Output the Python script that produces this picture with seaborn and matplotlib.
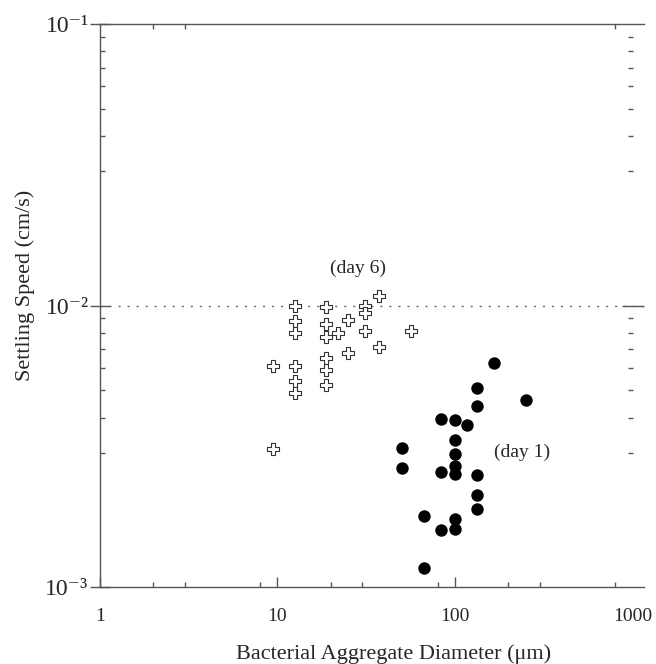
import matplotlib
matplotlib.use("Agg")
import matplotlib.pyplot as plt
import seaborn as sns
import pandas as pd

# day 6 aggregates (open crosses)
day6_diam = [37.5, 12.5, 18.75, 31.25, 31.25, 12.5, 18.75, 25, 12.5, 18.75, 21.9,
             31.25, 56.25, 37.5, 25, 9.4, 12.5, 18.75, 18.75, 12.5, 12.5, 18.75, 9.4]
day6_speed = [0.0108, 0.0100, 0.0099, 0.0100, 0.0094, 0.0088, 0.0086, 0.0089, 0.0080,
              0.0077, 0.0080, 0.0081, 0.0081, 0.0071, 0.0068, 0.0061, 0.0061, 0.0065,
              0.0059, 0.0054, 0.0049, 0.0052, 0.0031]

# day 1 aggregates (filled circles)
day1_diam = [166.7, 133.3, 250, 133.3, 83.3, 100, 116.7, 100, 100, 50, 50, 83.3, 100,
             100, 133.3, 133.3, 133.3, 66.7, 83.3, 100, 100, 66.7]
day1_speed = [0.00626, 0.00511, 0.00462, 0.00441, 0.00396, 0.00391, 0.00375, 0.00332,
              0.00296, 0.00312, 0.00264, 0.00256, 0.00268, 0.00251, 0.00249, 0.00212,
              0.00189, 0.00179, 0.00159, 0.00174, 0.00161, 0.00117]

x_ticks = [1, 10, 100, 1000]
x_ticklabels = ["1", "10", "100", "1000"]
y_ticks = [1e-3, 1e-2, 1e-1]
y_ticklabels = ["10\u207b\u00b3", "10\u207b\u00b2", "10\u207b\u00b9"]
x_minor = [2, 3, 8, 20, 30, 80, 200, 300, 800]
x_minor_top = [2, 3, 800]
y_minor = [k * 1e-3 for k in range(3, 10)] + [k * 1e-2 for k in range(3, 10)]

sns.set_style("ticks")
plt.rcParams["font.family"] = ["Liberation Serif", "DejaVu Serif"]

AX = "#555555"
PT = 72 / 100  # points per pixel at dpi 100

df6 = pd.DataFrame({"d": day6_diam, "v": day6_speed})
df1 = pd.DataFrame({"d": day1_diam, "v": day1_speed})

fig = plt.figure(figsize=(6.56, 6.64), dpi=100)
ax = fig.add_axes([100 / 656, 1 - 587 / 664, 544 / 656, 563 / 664])
ax.set_xscale("log")
ax.set_yscale("log")
ax.set_xlim(1, 1161)
ax.set_ylim(1e-3, 1e-1)

ax.axhline(1e-2, color="#666666", lw=1.0, ls=(0, (1.5, 5)), zorder=1)

sns.scatterplot(data=df6, x="d", y="v", ax=ax, marker="P", s=85,
                facecolor="white", edgecolor="#333333", linewidth=0.8, zorder=3)
sns.scatterplot(data=df1, x="d", y="v", ax=ax, marker="o", s=80,
                color="black", edgecolor="black", linewidth=0, zorder=3)

ax.text(28.4, 0.0136, "(day 6)", fontsize=14, ha="center", va="center")
ax.text(238, 0.0030, "(day 1)", fontsize=14, ha="center", va="center")

for side in ["left", "bottom", "top"]:
    ax.spines[side].set_color(AX)
    ax.spines[side].set_linewidth(1.0)
ax.spines["right"].set_visible(False)

ax.set_xticks(x_ticks)
ax.set_xticklabels(x_ticklabels)
ax.set_xticks(x_minor, minor=True)
ax.set_yticks(y_ticks)
ax.set_yticklabels(y_ticklabels)
ax.set_yticks(y_minor, minor=True)
ax.xaxis.set_minor_formatter(matplotlib.ticker.NullFormatter())
ax.yaxis.set_minor_formatter(matplotlib.ticker.NullFormatter())

ax.tick_params(axis="x", which="major", direction="in", length=10 * PT, width=1,
               color=AX, labelsize=14, pad=15, top=False)
ax.tick_params(axis="x", which="minor", direction="in", length=5 * PT, width=1,
               color=AX, top=False)
ax.tick_params(axis="y", which="major", direction="inout", length=20 * PT, width=1,
               color=AX, labelsize=17, pad=1, right=False)
ax.tick_params(axis="y", which="minor", direction="in", length=5 * PT, width=1,
               color=AX, right=False)
ax.xaxis.get_major_ticks()[-1].tick1line.set_visible(False)

# top axis ticks
top = ax.secondary_xaxis("top")
top.set_xticks([])
top.set_xticks(x_minor_top, minor=True)
top.xaxis.set_minor_formatter(matplotlib.ticker.NullFormatter())
top.tick_params(which="minor", direction="in", length=5 * PT, width=1, color=AX)
top.spines["top"].set_visible(False)

# right side: major tick at 1e-2 and floating minor ticks
r1 = ax.secondary_yaxis(1.0)
r1.set_yticks([1e-2])
r1.set_yticklabels([])
r1.set_yticks([], minor=True)
r1.tick_params(which="major", direction="in", length=22 * PT, width=1, color=AX)
r1.spines["right"].set_visible(False)

r2 = ax.secondary_yaxis(0.98)
r2.set_yticks([])
r2.set_yticks(y_minor, minor=True)
r2.yaxis.set_minor_formatter(matplotlib.ticker.NullFormatter())
r2.tick_params(which="minor", direction="in", length=5 * PT, width=1, color=AX)
r2.spines["right"].set_visible(False)

ax.set_xlabel("Bacterial Aggregate Diameter (\u03bcm)", fontsize=16)
ax.set_ylabel("Settling Speed (cm/s)", fontsize=16)
ax.xaxis.set_label_coords(0.539, -0.101)
ax.yaxis.set_label_coords(-0.1195, 0.536)

fig.savefig("out.png", dpi=100)
